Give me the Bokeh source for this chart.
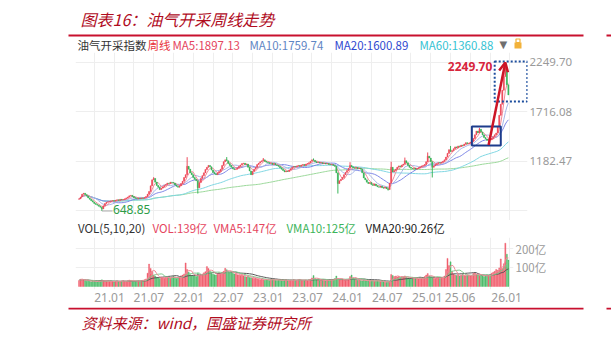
import pandas as pd
from bokeh.plotting import figure
from bokeh.layouts import column
from bokeh.core.properties import value
from bokeh.models import (ColumnDataSource, Range1d, FixedTicker, Grid, Label,
                          BoxAnnotation, Arrow, OpenHead, NumeralTickFormatter,
                          PrintfTickFormatter)
from bokeh.embed import file_html
from bokeh.resources import INLINE

# ---------------- data ----------------
first_week = "2020-08-14"
first_open = 775
close = [
    780, 800, 830, 840, 825, 810, 790, 775, 760, 745, 730, 720, 712, 700, 690, 672, 705, 730, 742, 748, 752,
    758, 762, 755, 765, 770, 762, 775, 768, 772, 780, 790, 800, 812, 818, 805, 792, 785, 780, 788, 782,
    790, 786, 795, 805, 830,
    860, 920, 985, 1000, 960, 925, 905, 880, 895, 910, 925, 935, 950, 945, 960, 955, 950, 930, 915, 905,
    920, 945, 970, 1010, 1040, 1130,
    1100, 1060, 1040, 1010, 990, 975, 900, 955, 1000, 1030, 1060, 1095, 1120, 1140, 1125, 1090, 1065, 1050,
    1040, 1060, 1075, 1100, 1140, 1180, 1200, 1190, 1160, 1140, 1120,
    1105, 1095, 1100, 1115, 1130, 1145, 1160, 1165, 1150, 1155, 1120, 1080, 1040, 1075, 1100, 1120, 1150,
    1165, 1180, 1190, 1200, 1185, 1175, 1170, 1160, 1165, 1150, 1160, 1145, 1140,
    1130, 1115, 1100, 1085, 1070, 1080, 1075, 1090, 1105, 1120, 1130, 1125, 1135, 1140, 1130, 1145, 1150,
    1140, 1155, 1160, 1170, 1185, 1200, 1195, 1180, 1170, 1175, 1165, 1170, 1160, 1165, 1155, 1160, 1150,
    1145, 1150, 1140, 1130,
    1060, 945, 975, 990, 1010, 1040, 1065, 1085, 1110, 1140, 1125, 1115, 1110, 1118, 1105, 1112, 1100, 1060,
    1005, 985, 960, 945, 955, 935, 925, 940, 920, 910, 905, 915, 900, 895, 905, 890, 880, 950, 1120, 1070,
    1085, 1100, 1120, 1135, 1125, 1145, 1155, 1190, 1170, 1140, 1120, 1110, 1105, 1112, 1100, 1108, 1115,
    1125, 1135, 1140, 1150, 1180, 1240, 1220, 1180, 1120, 1135, 1150, 1160, 1170, 1165, 1175, 1185, 1200,
    1230, 1270, 1310, 1290, 1300, 1320, 1340, 1330, 1350, 1345, 1360, 1355, 1370, 1385, 1375, 1380, 1390,
    1400, 1430, 1470, 1510, 1490, 1530, 1500, 1470, 1440, 1425, 1410, 1420, 1415, 1430,
    1450, 1470, 1490, 1560, 1680, 1800, 1950, 2100, 2190, 2010, 1900,
]
volume = [
    32, 38, 40, 35, 30, 28, 33, 27, 25, 30, 28, 26, 24, 29, 31, 35,
    30, 28, 26, 25, 27, 29, 26, 24, 28, 30, 27, 25, 29, 31, 28, 26, 30, 34, 32, 28, 26, 27, 29, 30, 28, 31,
    33, 36, 40,
    70, 118, 95, 80,
    60, 55, 48, 45, 42, 50, 47, 44, 52, 48, 46, 43, 50, 55, 47, 42, 45, 50, 56, 60, 66,
    124, 90,
    75, 62, 58, 55, 60, 52, 70, 58, 62, 66, 72, 78,
    105, 95, 80,
    70, 65, 62, 60, 68, 72, 66, 75, 80,
    96,
    88, 78, 72, 75, 70, 66, 68, 62, 60, 58, 62, 56, 52, 50, 55, 48, 46, 44, 42, 45, 40,
    38, 36, 40, 35, 33, 37, 34, 32, 36, 38, 35, 33, 31, 34, 36, 32, 30, 33, 35, 31, 30, 34, 32, 36, 33, 31,
    35, 37, 33, 30,
    32, 34, 31, 36, 38, 45, 58, 42, 36, 34, 32, 35, 33, 31, 30, 34, 32, 36, 33, 38, 42, 55, 40, 36, 34, 38,
    35, 33, 36, 40, 52, 60, 45, 38, 36, 33, 35, 32, 30, 34, 31, 29, 30, 28, 32, 30, 27, 29, 31, 28, 26, 28, 25,
    23, 22, 24, 26,
    63, 58, 52, 55, 50, 54, 48, 52, 50,
    55, 48, 45, 42, 44, 46, 41, 43, 45, 40, 42, 44, 47, 52, 60, 68, 55, 50, 46, 44, 42, 45, 48, 44, 46, 50, 55,
    90, 148, 110, 130,
    80, 66, 60, 58, 62, 55, 60, 64, 58, 56, 62, 60, 55, 58, 68, 72, 65, 60, 58, 62, 56, 52, 55, 60, 58, 62, 70,
    75, 80, 90, 85, 98, 145, 95, 120, 228, 170, 139,
]
high_marks = {49: 1013, 71: 1229, 97: 1230, 121: 1220, 154: 1215, 178: 1175, 205: 1180,
              214: 1225, 229: 1280, 244: 1350, 263: 1545, 280: 2249.70}
low_marks = {15: 648.85, 78: 837, 170: 837, 203: 870, 232: 1010}

price_axis_ticks = [1182.47, 1716.08, 2249.70]
price_grid_ticks = [648.85, 1182.47, 1716.08, 2249.70]
volume_ticks = [100, 200]
month_ticks = ["2021-01-01", "2021-07-01", "2022-01-01", "2022-07-01", "2023-01-01", "2023-07-01",
               "2024-01-01", "2024-07-01", "2025-01-01", "2025-06-01", "2026-01-01"]
month_labels = ["21.01", "21.07", "22.01", "22.07", "23.01", "23.07",
                "24.01", "24.07", "25.01", "25.06", "26.01"]

title_text = "图表16：油气开采周线走势"
source_text = "资料来源：wind，国盛证券研究所"
legend1_text = ["油气开采指数", "周线", "MA5:1897.13", "MA10:1759.74", "MA20:1600.89", "MA60:1360.88"]
legend1_color = ["#333333", "#e8333c", "#e5455e", "#5f86c4", "#3049d0", "#36c3d3"]
legend2_text = ["VOL(5,10,20)", "VOL:139亿", "VMA5:147亿", "VMA10:125亿", "VMA20:90.26亿"]
legend2_color = ["#333333", "#e5455e", "#e5455e", "#3cb45a", "#222222"]
low_label = "648.85"
high_label = "2249.70"

# ---------------- derived ----------------
DAY = 86400000.0
RED, GREEN = "#ef4b5c", "#3bb55b"
DARK_RED = "#b00c1e"
RULE_RED = "#c8102e"
FONT_CJK = "Noto Sans CJK SC"


def ms(t):
    return pd.Timestamp(t).value / 1e6


dates = pd.date_range(first_week, periods=len(close), freq="7D")
xms = [ms(d) for d in dates]
opens = [first_open] + close[:-1]
highs = [high_marks.get(i, max(o, c)) for i, (o, c) in enumerate(zip(opens, close))]
lows = [low_marks.get(i, min(o, c)) for i, (o, c) in enumerate(zip(opens, close))]
colors = [RED if c >= o else GREEN for o, c in zip(opens, close)]
cs = pd.Series(close, dtype=float)
vs = pd.Series(volume, dtype=float)
src = ColumnDataSource(dict(
    x=xms, open=opens, close=close, high=highs, low=lows,
    top=[max(o, c) for o, c in zip(opens, close)], bottom=[min(o, c) for o, c in zip(opens, close)],
    color=colors, volume=volume,
    ma5=cs.rolling(5, min_periods=1).mean(), ma10=cs.rolling(10, min_periods=1).mean(),
    ma20=cs.rolling(20, min_periods=1).mean(), ma60=cs.rolling(60, min_periods=1).mean(),
    ma120=cs.rolling(120, min_periods=1).mean(),
    vma5=vs.rolling(5, min_periods=1).mean(), vma10=vs.rolling(10, min_periods=1).mean(),
    vma20=vs.rolling(20, min_periods=1).mean(),
))

# page-pixel calibration of the time axis
ANCHOR = ms("2021-01-01")
ANCHOR_PX = 109.0
PX_PER_DAY = 0.2175


def px_to_ms(px):
    return ANCHOR + (px - ANCHOR_PX) / PX_PER_DAY * DAY


x_start = px_to_ms(75)
x_end_price = px_to_ms(527)
x_end_vol = px_to_ms(513)
vgrid = [ms(pd.Timestamp(first_week) + pd.Timedelta(weeks=10 + 13 * k)) for k in range(0, 23)]

GRID = "#eeeeee"
AXIS_GREY = "#9a9a9a"


def style_axis(ax, size="11.5px"):
    ax.axis_line_color = None
    ax.major_tick_line_color = None
    ax.minor_tick_line_color = None
    ax.major_tick_out = 0
    ax.minor_tick_out = 0
    ax.major_label_text_color = AXIS_GREY
    ax.major_label_text_font = "Noto Sans"
    ax.major_label_text_font_size = size


def strip_fig(height, y_top, y_bottom):
    """A decoration strip whose data space is the page's pixel space."""
    f = figure(width=611, height=height, title=None, x_range=Range1d(0, 611),
               y_range=Range1d(y_bottom, y_top), x_axis_location=None, y_axis_location=None,
               toolbar_location=None, output_backend="svg", min_border=0, frame_align=False)
    f.outline_line_color = None
    f.grid.visible = False
    return f


# ---------------- header strip (page y 0..52) ----------------
hdr = strip_fig(52, 0, 52)
hdr.text(x=[80], y=[18], text=[title_text], text_font=value(FONT_CJK), text_font_size="16px",
         text_font_style="italic", text_color=DARK_RED, text_baseline="middle")
hdr.quad(left=[68, 606], right=[583, 611], top=[34, 34], bottom=[36, 36],
         fill_color=RULE_RED, line_color=None)
leg1 = ColumnDataSource(dict(x=[77, 147, 172, 249, 334, 419], y=[44] * 6,
                             text=legend1_text, color=legend1_color))
hdr.text(x="x", y="y", text="text", text_color="color", source=leg1, text_font=value(FONT_CJK),
         text_font_size="11.5px", text_baseline="middle")
hdr.text(x=[499], y=[44], text=["▼"], text_font=value("DejaVu Sans"), text_font_size="10px",
         text_color="#6f6f6f", text_baseline="middle")
hdr.quad(left=[514], right=[521], top=[42], bottom=[48], fill_color="#f2b23a", line_color=None)
hdr.quad(left=[515.5], right=[519.5], top=[38.5], bottom=[42], fill_color=None,
         line_color="#f2b23a", line_width=1.2)

# ---------------- price panel (page y 52..220) ----------------
p1 = figure(width=611, height=168, title=None, x_axis_type="datetime",
            x_range=Range1d(x_start, x_end_price), y_range=Range1d(546.4, 2357.5),
            x_axis_location=None, y_axis_location="right",
            toolbar_location=None, output_backend="svg", frame_align=False,
            min_border=0, min_border_left=75, min_border_right=84,
            min_border_top=0, min_border_bottom=0)
p1.outline_line_color = None
p1.grid.visible = False
ya = p1.yaxis[0]
ya.ticker = FixedTicker(ticks=price_axis_ticks)
ya.formatter = NumeralTickFormatter(format="0.00")
style_axis(ya)
ya.major_label_standoff = 2
p1.add_layout(Grid(dimension=0, ticker=FixedTicker(ticks=vgrid), grid_line_color=GRID))
p1.add_layout(Grid(dimension=1, ticker=FixedTicker(ticks=price_grid_ticks), grid_line_color=GRID))

p1.line("x", "ma120", source=src, line_color="#9bd89a", line_width=1)
p1.line("x", "ma60", source=src, line_color="#7fd6e2", line_width=1)
p1.line("x", "ma20", source=src, line_color="#7d86e6", line_width=1)
p1.line("x", "ma10", source=src, line_color="#a7b6e6", line_width=1)
p1.line("x", "ma5", source=src, line_color="#f08a98", line_width=1)
p1.segment("x", "high", "x", "low", source=src, line_color="color", line_width=1)
p1.vbar(x="x", width=5 * DAY, top="top", bottom="bottom", source=src,
        fill_color="color", line_color="color", line_width=0.4)

p1.add_layout(BoxAnnotation(left=xms[258], right=xms[277], bottom=1355, top=1560,
                            fill_color=None, fill_alpha=0, line_color="#1d3c8c",
                            line_alpha=1, line_width=2))
p1.add_layout(BoxAnnotation(left=xms[273], right=xms[-1] + 87 * DAY, bottom=1829, top=2260,
                            fill_color=None, fill_alpha=0, line_color="#1d4e9e",
                            line_alpha=1, line_width=2, line_dash="2 2"))
p1.add_layout(Arrow(x_start=xms[269], y_start=1360, x_end=xms[280], y_end=2249.70,
                    line_color="#cc1426", line_width=2.5,
                    end=OpenHead(size=9, line_color="#cc1426", line_width=2.5)))
p1.add_layout(Label(x=xms[280], y=2249.70, x_offset=-13, y_offset=-4, text=high_label,
                    text_align="right", text_baseline="middle", text_color="#d7263d",
                    text_font="Noto Sans", text_font_size="12px", text_font_style="bold"))
p1.segment(x0=[xms[15]], y0=[648.85], x1=[xms[22]], y1=[648.85], line_color="#aaaaaa", line_width=1)
p1.add_layout(Label(x=xms[15], y=648.85, x_offset=11, y_offset=1, text=low_label,
                    text_align="left", text_baseline="middle", text_color="#2e9d48",
                    text_font="Noto Sans", text_font_size="12px"))

# ---------------- volume legend strip (page y 220..237) ----------------
vhd = strip_fig(17, 220, 237)
leg2 = ColumnDataSource(dict(x=[77.5, 152, 213, 286, 365], y=[227.5] * 5,
                             text=legend2_text, color=legend2_color))
vhd.text(x="x", y="y", text="text", text_color="color", source=leg2, text_font=value(FONT_CJK),
         text_font_size="11.5px", text_baseline="middle")

# ---------------- volume panel (page y 237..307) ----------------
p2 = figure(width=611, height=70, title=None, x_axis_type="datetime",
            x_range=Range1d(x_start, x_end_vol), y_range=Range1d(-15.8, 257.9),
            y_axis_location="right", toolbar_location=None, output_backend="svg",
            frame_align=False, min_border=0, min_border_left=75, min_border_right=98,
            min_border_top=0, min_border_bottom=18)
p2.outline_line_color = None
p2.grid.visible = False
va = p2.yaxis[0]
va.ticker = FixedTicker(ticks=volume_ticks)
va.formatter = PrintfTickFormatter(format="%d亿")
style_axis(va)
va.major_label_text_font = FONT_CJK
va.major_label_standoff = 2
xa = p2.xaxis[0]
tick_ms = [ms(t) for t in month_ticks]
xa.ticker = FixedTicker(ticks=tick_ms)
xa.major_label_overrides = dict(zip(tick_ms, month_labels))
style_axis(xa, size="12px")
xa.major_label_standoff = 3
p2.add_layout(Grid(dimension=0, ticker=FixedTicker(ticks=vgrid), grid_line_color=GRID))
p2.add_layout(Grid(dimension=1, ticker=FixedTicker(ticks=volume_ticks), grid_line_color=GRID))

p2.vbar(x="x", width=5 * DAY, top="volume", bottom=0, source=src,
        fill_color="color", line_color="color", line_width=0.4, fill_alpha=0.85, line_alpha=0.85)
p2.line("x", "vma20", source=src, line_color="#555555", line_width=1)
p2.line("x", "vma10", source=src, line_color="#7cc98a", line_width=1)
p2.line("x", "vma5", source=src, line_color="#f08a98", line_width=1)

# ---------------- footer strip (page y 307..338) ----------------
ftr = strip_fig(31, 307, 338)
ftr.quad(left=[68, 606], right=[583, 611], top=[307, 307], bottom=[309, 309],
         fill_color=RULE_RED, line_color=None)
ftr.text(x=[81], y=[322], text=[source_text], text_font=value(FONT_CJK), text_font_size="15px",
         text_font_style="italic", text_color=DARK_RED, text_baseline="middle")

layout = column(hdr, p1, vhd, p2, ftr, spacing=0)
open("out.html", "w").write(file_html(layout, INLINE))
